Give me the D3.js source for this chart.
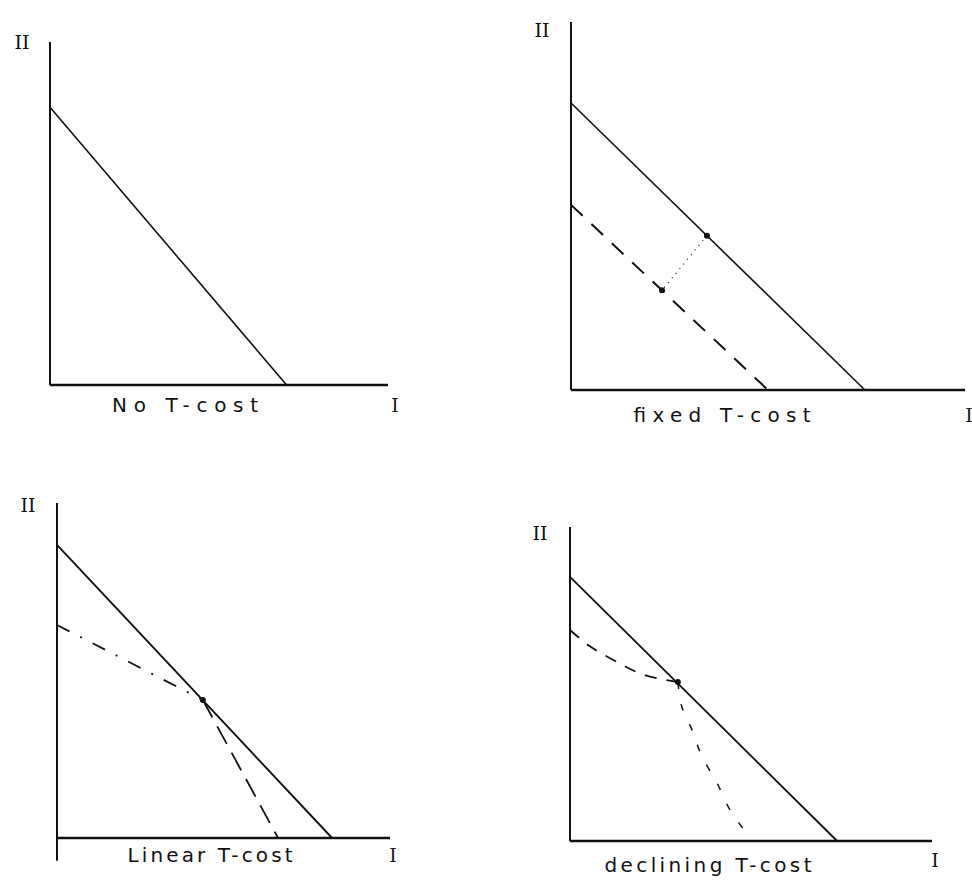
<!DOCTYPE html>
<html>
<head>
<meta charset="utf-8">
<script src="https://cdn.jsdelivr.net/npm/d3@7"></script>
<style>
  body { margin: 0; background: #fff; }
  svg { display: block; }
  .lbl { font-family: "DejaVu Sans", sans-serif; fill: #111; }
  .roman { font-family: "DejaVu Serif", serif; fill: #111; }
</style>
</head>
<body>
<div id="chart"></div>
<script>
// values, every panel uses a 0..100 domain on both axes

var panelTitles = ['No T-cost', 'fixed T-cost', 'Linear T-cost', 'declining T-cost'];
var yAxisLabel = 'II';
var xAxisLabel = 'I';

// panel 1: no transport cost
var noCostLine = [[0, 81], [70, 0]];

// panel 2: fixed transport cost
var fixedFull = [[0, 78], [74.6, 0]];
var fixedNet = [[0, 50.3], [50, 0]];
var fixedLink = [[34.5, 41.9], [23.1, 27.1]];

// panel 3: linear transport cost
var linearFull = [[0, 87.5], [82.6, 0]];
var linearUpper = [[0, 63.6], [43.8, 41.2]];
var linearLower = [[43.8, 41.2], [66.4, 0]];
var linearDot = [43.8, 41.2];

// panel 4: declining transport cost
var declFull = [[0, 84.1], [73.8, 0]];
var declUpper = [[0, 67.2], [5.5, 62.0], [13.0, 57.0], [20.2, 53.0], [29.8, 50.6]];
var declLower = [[29.8, 50.6], [30.9, 42.7], [33.7, 35.4], [36.5, 26.8], [40.6, 18.5], [44.2, 9.9], [49.2, 1.9]];
var declDot = [29.8, 50.6];

// where each panel sits on the page (axis ends in pixels)
var frames = [
    { x0: 50, x1: 388, y0: 385, y1: 42, yLow: 0 },
    { x0: 571, x1: 965, y0: 390, y1: 22, yLow: 0 },
    { x0: 57, x1: 390, y0: 838, y1: 503, yLow: -6.8 },
    { x0: 570, x1: 932, y0: 841, y1: 527, yLow: 0 }
];

var svg = d3.select('#chart')
    .append('svg')
    .attr('width', 972)
    .attr('height', 881);

var ink = '#111';

function makePanel(i) {
    var f = frames[i];
    var x = d3.scaleLinear().domain([0, 100]).range([f.x0, f.x1]);
    var y = d3.scaleLinear().domain([0, 100]).range([f.y0, f.y1]);
    var g = svg.append('g');

    // axes
    g.append('line')
        .attr('x1', x(0)).attr('y1', y(f.yLow))
        .attr('x2', x(0)).attr('y2', y(100))
        .attr('stroke', ink).attr('stroke-width', 2);
    g.append('line')
        .attr('x1', x(0)).attr('y1', y(0))
        .attr('x2', x(100)).attr('y2', y(0))
        .attr('stroke', ink).attr('stroke-width', 2.4);

    return { g: g, x: x, y: y };
}

function drawLine(p, pts, dash, curve, width) {
    var line = d3.line()
        .x(d => p.x(d[0]))
        .y(d => p.y(d[1]))
        .curve(curve || d3.curveLinear);
    p.g.append('path')
        .attr('d', line(pts))
        .attr('fill', 'none')
        .attr('stroke', ink)
        .attr('stroke-width', width || 1.6)
        .attr('stroke-dasharray', dash || null);
}

function drawDot(p, pt) {
    p.g.append('circle')
        .attr('cx', p.x(pt[0]))
        .attr('cy', p.y(pt[1]))
        .attr('r', 3)
        .attr('fill', ink);
}

// label positions in pixels
var titlePos = [[185, 412, 146], [722, 422, 177], [210, 862, 165], [708, 872, 207]];
var yLabelPos = [[22, 49], [542, 37], [28, 512], [540, 540]];
var xLabelPos = [[395, 412], [969, 422], [393, 862], [935, 867]];

var panels = [0, 1, 2, 3].map(makePanel);

// panel 1
drawLine(panels[0], noCostLine);

// panel 2
drawLine(panels[1], fixedFull);
drawLine(panels[1], fixedNet, '16,12', null, 2);
drawLine(panels[1], fixedLink, '1,5', null, 1.2);
drawDot(panels[1], fixedLink[0]);
drawDot(panels[1], fixedLink[1]);

// panel 3
drawLine(panels[2], linearFull, null, null, 1.9);
drawLine(panels[2], linearUpper, '14,12,2,12', null, 1.8);
drawLine(panels[2], linearLower, '20,10', null, 1.8);
drawDot(panels[2], linearDot);

// panel 4
drawLine(panels[3], declFull, null, null, 1.8);
drawLine(panels[3], declUpper, '12,10', d3.curveCatmullRom, 1.8);
drawLine(panels[3], declLower, '7,15', d3.curveCatmullRom, 1.5);
drawDot(panels[3], declDot);

// texts
panelTitles.forEach(function (t, i) {
    svg.append('text')
        .attr('class', 'lbl')
        .attr('x', titlePos[i][0])
        .attr('y', titlePos[i][1])
        .attr('text-anchor', 'middle')
        .attr('font-size', 20)
        .attr('textLength', titlePos[i][2])
        .attr('lengthAdjust', 'spacing')
        .text(t);

    svg.append('text')
        .attr('class', 'roman')
        .attr('x', yLabelPos[i][0])
        .attr('y', yLabelPos[i][1])
        .attr('text-anchor', 'middle')
        .attr('font-size', 19)
        .text(yAxisLabel);

    svg.append('text')
        .attr('class', 'roman')
        .attr('x', xLabelPos[i][0])
        .attr('y', xLabelPos[i][1])
        .attr('text-anchor', 'middle')
        .attr('font-size', 19)
        .text(xAxisLabel);
});
</script>
</body>
</html>
